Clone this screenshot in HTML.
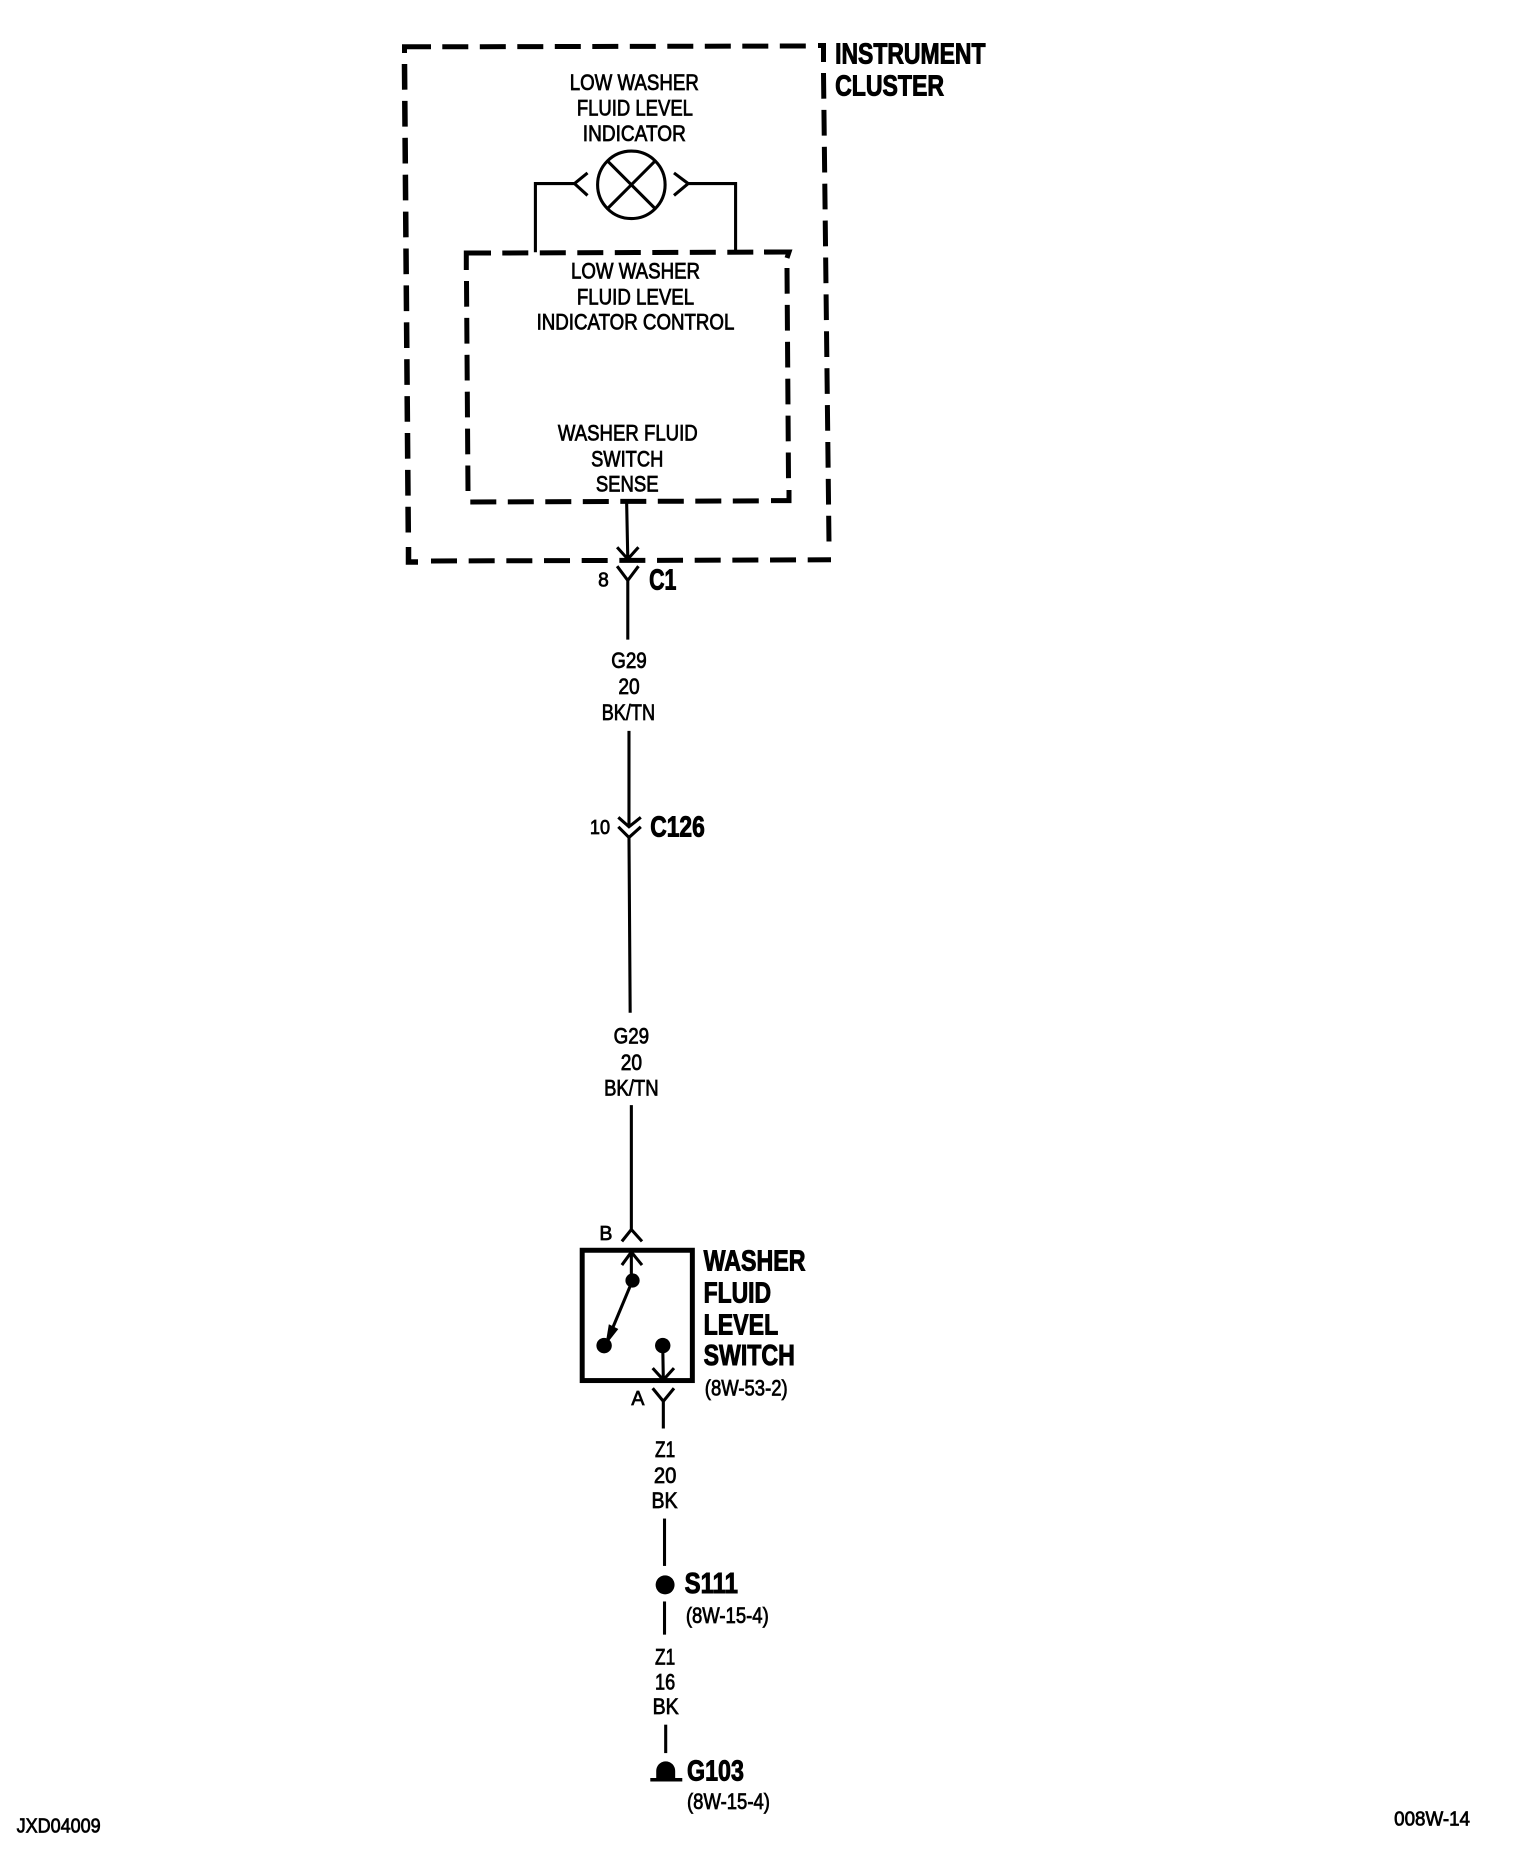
<!DOCTYPE html>
<html><head><meta charset="utf-8"><style>
html,body{margin:0;padding:0;background:#fff}
svg{display:block}
text{font-family:"Liberation Sans",sans-serif;fill:#000;stroke:#000;stroke-width:.65}
.b{font-weight:bold;font-size:24px;stroke-width:.8}
.m{font-size:19px}
.s{font-size:17.5px}
.w{fill:none;stroke:#000;stroke-width:2.6;stroke-linecap:butt;stroke-linejoin:miter}
.d{fill:none;stroke:#000;stroke-width:5;stroke-linecap:butt;stroke-linejoin:miter}
.h{stroke-dasharray:26 11.5}
.v{stroke-dasharray:25.7 11.2}
.f{fill:#000;stroke:none}
</style></head><body>
<svg xmlns="http://www.w3.org/2000/svg" width="1520" height="1858" viewBox="0 0 1520 1858">
<!-- outer dashed box (real px) -->
<path class="d" d="M404.5,53 L404.5,46.8 L431,46.8"/>
<path class="d h" d="M442.3,46.8 L806,46"/>
<path class="d" d="M818,45.5 L826,45.5 M823.5,43 L823.5,62"/>
<path class="d v" d="M823.5,73 L829,543"/>
<path class="d h" style="stroke-dasharray:26 11.67" d="M431,561 L831,559.8"/>
<path class="d" style="stroke-width:5.5" d="M408.5,547 L408.5,562 L418,562"/>
<path class="d v" style="stroke-width:5.5" d="M404.5,64 L408.3,535"/>
<!-- inner dashed box (real px) -->
<path class="d" d="M466.3,270 L466.3,253 L491,253"/>
<path class="d h" d="M502.3,253 L787,252"/>
<path class="d" d="M764,252 L789,252 L787,258"/>
<path class="d v" d="M787,268 L788.5,479"/>
<path class="d" d="M789,490 L789,500.6 L771,500.6"/>
<path class="d h" d="M470.3,502 L762,500.9"/>
<path class="d v" d="M466.5,281 L468,491"/>
<g transform="scale(1.18452)">
<!-- lamp -->
<circle cx="533" cy="156" r="28.5" fill="none" stroke="#000" stroke-width="2.6"/>
<path class="w" d="M513,136 L553,176 M553,136 L513,176"/>
<path class="w" d="M452,213 L452,155 L485,155 M496,146 L485,155 L496,165"/>
<path class="w" d="M621,213 L621,155 L581,155 M569,146 L581,155 L569,165"/>
<!-- C1 -->
<path class="w" d="M529,423 L530,472 M521,462 L530,472 L539,462"/>
<path class="w" d="M521,478 L530,490 L539,478 M530,490 L530,540"/>
<!-- G29 wires -->
<path class="w" d="M531,617 L531,698 M522,690 L531,698 L541,690"/>
<path class="w" d="M522,698 L531,707 L541,698 M531,707 L532,855"/>
<path class="w" d="M533,933 L533,1038 M525,1048 L533,1038 L542,1048"/>
<!-- switch -->
<rect x="491.5" y="1055.5" width="93" height="110" fill="none" stroke="#000" stroke-width="4.2"/>
<path class="w" d="M533,1057 L533,1081 M525,1068 L533,1057 L542,1068"/>
<circle class="f" cx="534" cy="1081" r="6"/>
<path class="w" d="M534,1081 L511,1136"/>
<path class="f" d="M514,1118 L522,1122 L511,1136 Z"/>
<circle class="f" cx="510" cy="1136" r="6.5"/>
<circle class="f" cx="559.5" cy="1136" r="6.5"/>
<path class="w" d="M559.5,1136 L560,1165 M551,1155 L560,1165 L569,1155"/>
<path class="w" d="M551,1172 L560,1183 L569,1172 M560,1183 L560,1206"/>
<!-- lower -->
<path class="w" d="M561,1282 L561,1322"/>
<circle class="f" cx="561.5" cy="1338" r="8"/>
<path class="w" d="M561,1352 L561,1380"/>
<path class="w" d="M562,1456 L562,1480"/>
<path class="f" d="M554,1502 L554,1495 A8,8 0 0 1 570,1495 L570,1502 Z"/>
<path class="f" d="M549,1501 L576,1501 L576,1504 L549,1504 Z"/>
<!-- labels -->
<text class="b" x="705" y="53.5" textLength="127" lengthAdjust="spacingAndGlyphs">INSTRUMENT</text>
<text class="b" x="705" y="80.5" textLength="92" lengthAdjust="spacingAndGlyphs">CLUSTER</text>
<text class="m" x="481" y="76" textLength="109" lengthAdjust="spacingAndGlyphs">LOW WASHER</text>
<text class="m" x="487" y="97.5" textLength="98" lengthAdjust="spacingAndGlyphs">FLUID LEVEL</text>
<text class="m" x="492" y="119" textLength="87" lengthAdjust="spacingAndGlyphs">INDICATOR</text>
<text class="m" x="482" y="235" textLength="109" lengthAdjust="spacingAndGlyphs">LOW WASHER</text>
<text class="m" x="487" y="257" textLength="99" lengthAdjust="spacingAndGlyphs">FLUID LEVEL</text>
<text class="m" x="453" y="278" textLength="167" lengthAdjust="spacingAndGlyphs">INDICATOR CONTROL</text>
<text class="m" x="471" y="372" textLength="118" lengthAdjust="spacingAndGlyphs">WASHER FLUID</text>
<text class="m" x="499" y="394" textLength="61" lengthAdjust="spacingAndGlyphs">SWITCH</text>
<text class="m" x="503" y="415" textLength="53" lengthAdjust="spacingAndGlyphs">SENSE</text>
<text class="s" x="505" y="495" textLength="9" lengthAdjust="spacingAndGlyphs">8</text>
<text class="b" x="548" y="497.5" textLength="23" lengthAdjust="spacingAndGlyphs">C1</text>
<text class="m" x="516" y="564" textLength="30" lengthAdjust="spacingAndGlyphs">G29</text>
<text class="m" x="522" y="586" textLength="18" lengthAdjust="spacingAndGlyphs">20</text>
<text class="m" x="508" y="608" textLength="45" lengthAdjust="spacingAndGlyphs">BK/TN</text>
<text class="s" x="498" y="704" textLength="17" lengthAdjust="spacingAndGlyphs">10</text>
<text class="b" x="549" y="706" textLength="46" lengthAdjust="spacingAndGlyphs">C126</text>
<text class="m" x="518" y="881" textLength="30" lengthAdjust="spacingAndGlyphs">G29</text>
<text class="m" x="524" y="903.5" textLength="18" lengthAdjust="spacingAndGlyphs">20</text>
<text class="m" x="510" y="925" textLength="46" lengthAdjust="spacingAndGlyphs">BK/TN</text>
<text class="s" x="506" y="1047" textLength="11" lengthAdjust="spacingAndGlyphs">B</text>
<text class="s" x="533" y="1186" textLength="11" lengthAdjust="spacingAndGlyphs">A</text>
<text class="b" x="594" y="1072.5" textLength="86" lengthAdjust="spacingAndGlyphs">WASHER</text>
<text class="b" x="594" y="1099.5" textLength="57" lengthAdjust="spacingAndGlyphs">FLUID</text>
<text class="b" x="594" y="1126.5" textLength="63" lengthAdjust="spacingAndGlyphs">LEVEL</text>
<text class="b" x="594" y="1152.5" textLength="77" lengthAdjust="spacingAndGlyphs">SWITCH</text>
<text class="m" x="595" y="1178" textLength="70" lengthAdjust="spacingAndGlyphs">(8W-53-2)</text>
<text class="m" x="553" y="1230" textLength="17" lengthAdjust="spacingAndGlyphs">Z1</text>
<text class="m" x="552" y="1252" textLength="19" lengthAdjust="spacingAndGlyphs">20</text>
<text class="m" x="550" y="1273" textLength="22" lengthAdjust="spacingAndGlyphs">BK</text>
<text class="b" x="578" y="1345" textLength="45" lengthAdjust="spacingAndGlyphs">S111</text>
<text class="m" x="579" y="1370" textLength="70" lengthAdjust="spacingAndGlyphs">(8W-15-4)</text>
<text class="m" x="553" y="1405" textLength="17" lengthAdjust="spacingAndGlyphs">Z1</text>
<text class="m" x="553" y="1426.5" textLength="17" lengthAdjust="spacingAndGlyphs">16</text>
<text class="m" x="551" y="1447" textLength="22" lengthAdjust="spacingAndGlyphs">BK</text>
<text class="b" x="580" y="1503" textLength="48" lengthAdjust="spacingAndGlyphs">G103</text>
<text class="m" x="580" y="1527" textLength="70" lengthAdjust="spacingAndGlyphs">(8W-15-4)</text>
<text class="s" x="14" y="1547" textLength="71" lengthAdjust="spacingAndGlyphs">JXD04009</text>
<text class="s" x="1177" y="1541" textLength="64" lengthAdjust="spacingAndGlyphs">008W-14</text>
</g>
</svg>
</body></html>
